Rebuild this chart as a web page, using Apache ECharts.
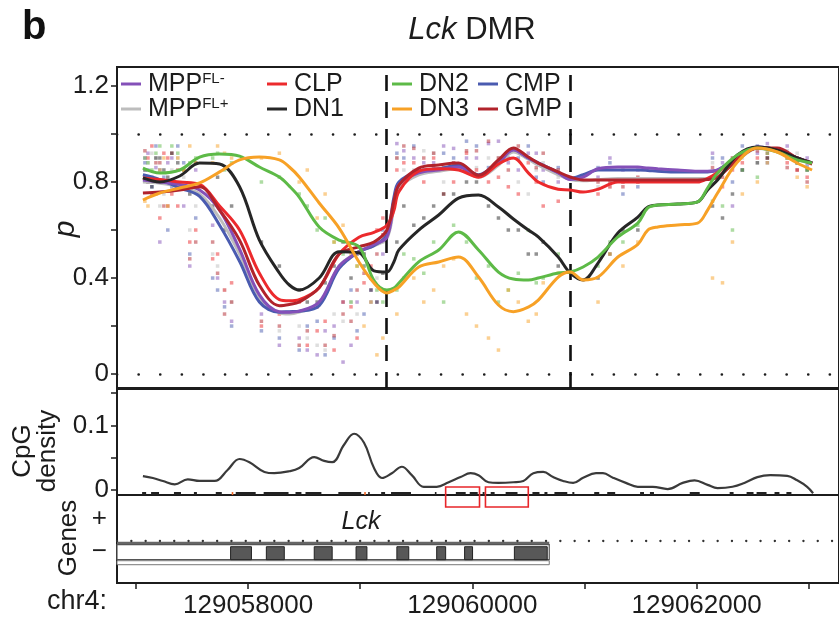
<!DOCTYPE html>
<html><head><meta charset="utf-8">
<script src="https://cdn.jsdelivr.net/npm/echarts@6/dist/echarts.min.js"></script>
<style>html,body{margin:0;padding:0;background:#fff}#c{width:839px;height:619px}</style>
</head><body><div id="c"></div>
<script>
// ---------------- DATA ----------------
// genomic range shown (chr4)
const xMin = 129056831;
const xMax = 129063270;
const xTickValues = [129057000, 129058000, 129059000, 129060000, 129061000, 129062000, 129063000];
const xLabelValues = [129058000, 129060000, 129062000];

// DMR boundaries (dashed vertical lines)
const dmrBounds = [129059232, 129060869];
const refLevels = [0, 1];
const pTicks = [0, 0.2, 0.4, 0.6, 0.8, 1.0, 1.2];
const pLabels = [0, 0.4, 0.8, 1.2];
const cpgTicks = [0, 0.05, 0.1, 0.15];
const cpgLabels = [0, 0.1];

// positions of smoothed methylation curves
const linePos = [129057062,129057213,129057391,129057568,129057746,129057924,129058101,129058279,129058368,129058456,
  129058634,129058812,129058989,129059123,129059238,129059300,129059345,129059522,129059700,129059877,
  129060055,129060233,129060366,129060499,129060588,129060766,129060872,129060988,129061121,129061298,
  129061476,129061565,129061654,129061831,129062009,129062098,129062187,129062364,129062542,129062719,
  129062897,129063030];

const lineMPPminus = [.808,.80,.79,.767,.683,.52,.33,.26,.258,.262,.30,.45,.51,.54,.57,.71,.79,.838,.85,.862,
  .825,.879,.933,.90,.879,.838,.81,.82,.855,.862,.862,.858,.855,.85,.845,.845,.85,.904,.946,.933,.90,.879];
const lineMPPplus = [.80,.795,.78,.75,.65,.50,.32,.255,.25,.258,.29,.45,.51,.535,.565,.69,.775,.83,.845,.855,
  .82,.87,.925,.895,.87,.83,.81,.805,.81,.815,.815,.815,.815,.815,.815,.815,.825,.89,.94,.93,.895,.875];
const lineCMP = [.83,.81,.775,.74,.62,.47,.30,.258,.26,.262,.285,.44,.51,.535,.58,.735,.80,.845,.855,.87,
  .83,.885,.935,.90,.88,.84,.815,.83,.85,.85,.85,.848,.845,.842,.842,.842,.85,.905,.946,.935,.90,.878];
const lineCLP = [.817,.81,.80,.79,.70,.60,.42,.31,.305,.31,.36,.50,.57,.59,.62,.68,.76,.845,.855,.85,
  .82,.875,.90,.838,.80,.77,.767,.758,.77,.80,.80,.80,.80,.80,.80,.815,.84,.90,.942,.933,.90,.875];
const lineGMP = [.754,.758,.767,.78,.683,.558,.37,.285,.29,.30,.36,.50,.53,.55,.60,.72,.787,.858,.871,.879,
  .828,.892,.942,.904,.879,.842,.821,.808,.808,.808,.808,.808,.808,.808,.808,.81,.82,.892,.942,.942,.90,.879];
const lineDN1 = [.817,.80,.825,.879,.875,.78,.558,.421,.371,.35,.40,.51,.505,.43,.425,.467,.517,.60,.6625,.733,
  .746,.696,.646,.60,.571,.4875,.421,.392,.4625,.5875,.654,.696,.704,.708,.717,.767,.808,.9125,.946,.933,.90,.879];
const lineDN2 = [.858,.8375,.85,.904,.917,.908,.8625,.821,.783,.7375,.6125,.558,.53,.39,.35,.358,.379,.467,.517,.592,
  .517,.425,.396,.392,.40,.421,.425,.446,.4875,.571,.629,.692,.704,.708,.717,.775,.8375,.9125,.942,.925,.892,.879];
const lineDN3 = [.725,.754,.775,.796,.842,.892,.904,.892,.8625,.821,.7125,.608,.467,.379,.3375,.35,.3625,.446,.467,.4875,
  .404,.2875,.26,.279,.308,.404,.425,.392,.404,.4875,.54,.60,.6125,.621,.629,.683,.754,.883,.942,.925,.879,.85];

// individual CpG measurements: two sets of sites, one value per cell type per site
const cpgSites = [129057080,129057142,129057213,129057284,129057373,129057480,129057684,129057790,129058119,129058456,
  129058616,129058767,129058918,129059034,129059149,129059389,129059567,129059744,129059948,129060144,
  129060321,129060499,129060632,129061121,129061343,129062231,129062320,129062542,129062808,129062986];
const cpgSites2 = [129057107,129057178,129057249,129057320,129057426,129057533,129057728,129057853,129058279,129058528,
  129058687,129058847,129058972,129059096,129059202,129059327,129059478,129059655,129059833,129060037,
  129060233,129060410,129060570,129060766,129061227,129061476,129062142,129062408,129062631,129062897];
const ptsMPPminus = [0.9,0.82,0.55,0.88,0.78,0.45,0.62,0.3,0.25,0.15,0.08,0.2,0.12,0.45,0.3,0.93,0.88,0.95,0.9,0.96,0.88,0.92,0.85,0.82,0.85,0.88,0.7,0.92,0.95,0.9];
const ptsMPPplus = [0.85,0.92,0.7,0.8,0.9,0.6,0.5,0.35,0.3,0.2,0.12,0.25,0.3,0.5,0.4,0.85,0.93,0.8,0.85,0.9,0.92,0.75,0.88,0.78,0.8,0.85,0.9,0.88,0.93,0.85];
const ptsCMP = [0.88,0.78,0.85,0.6,0.95,0.5,0.4,0.28,0.18,0.1,0.22,0.15,0.35,0.25,0.55,0.9,0.85,0.92,0.97,0.86,0.9,0.95,0.8,0.86,0.75,0.9,0.8,0.95,0.9,0.87];
const ptsCLP = [0.82,0.95,0.65,0.9,0.7,0.55,0.48,0.35,0.2,0.3,0.18,0.1,0.28,0.38,0.6,0.88,0.8,0.75,0.92,0.8,0.78,0.88,0.7,0.75,0.8,0.78,0.85,0.9,0.88,0.82];
const ptsGMP = [0.93,0.75,0.88,0.7,0.85,0.48,0.55,0.25,0.22,0.12,0.28,0.16,0.22,0.42,0.5,0.95,0.9,0.86,0.93,0.97,0.85,0.9,0.92,0.8,0.78,0.82,0.9,0.93,0.86,0.8];
const ptsDN1 = [0.85,0.78,0.9,0.82,0.88,0.75,0.7,0.6,0.55,0.35,0.3,0.45,0.4,0.5,0.3,0.7,0.65,0.75,0.8,0.7,0.6,0.5,0.55,0.4,0.6,0.65,0.75,0.88,0.92,0.85];
const ptsDN2 = [0.9,0.85,0.95,0.8,0.92,0.88,0.9,0.85,0.8,0.75,0.6,0.55,0.3,0.45,0.35,0.5,0.42,0.3,0.55,0.45,0.35,0.6,0.4,0.45,0.55,0.7,0.6,0.82,0.9,0.85];
const ptsDN3 = [0.72,0.8,0.85,0.7,0.9,0.95,0.88,0.92,0.9,0.8,0.65,0.55,0.5,0.2,0.08,0.4,0.3,0.45,0.25,0.15,0.35,0.22,0.38,0.3,0.45,0.38,0.55,0.8,0.9,0.78];
const pts2MPPminus = [0.92,0.86,0.8,0.9,0.7,0.85,0.4,0.22,0.12,0.1,0.18,0.05,0.3,0.35,0.5,0.96,0.9,0.88,0.94,0.9,0.97,0.85,0.92,0.8,0.9,0.85,0.92,0.85,0.96,0.88];
const pts2MPPplus = [0.88,0.9,0.75,0.85,0.82,0.7,0.45,0.3,0.18,0.15,0.1,0.22,0.25,0.4,0.55,0.9,0.85,0.92,0.88,0.86,0.9,0.8,0.85,0.82,0.78,0.8,0.88,0.9,0.9,0.92];
const pts2CMP = [0.85,0.95,0.82,0.78,0.88,0.65,0.35,0.2,0.15,0.2,0.08,0.3,0.18,0.3,0.6,0.92,0.95,0.86,0.9,0.95,0.88,0.9,0.82,0.86,0.88,0.78,0.9,0.95,0.88,0.9];
const pts2CLP = [0.9,0.8,0.92,0.75,0.85,0.6,0.5,0.38,0.25,0.12,0.22,0.3,0.15,0.45,0.65,0.85,0.88,0.9,0.8,0.85,0.82,0.75,0.8,0.72,0.78,0.8,0.82,0.88,0.92,0.85];
const pts2GMP = [0.8,0.88,0.7,0.92,0.78,0.55,0.42,0.3,0.2,0.18,0.12,0.25,0.35,0.4,0.58,0.9,0.94,0.92,0.88,0.93,0.9,0.95,0.86,0.85,0.8,0.82,0.86,0.92,0.9,0.85];
const pts2DN1 = [0.8,0.9,0.85,0.92,0.78,0.88,0.82,0.7,0.45,0.3,0.38,0.55,0.5,0.35,0.42,0.55,0.62,0.7,0.75,0.8,0.65,0.6,0.5,0.45,0.5,0.6,0.7,0.85,0.9,0.88];
const pts2DN2 = [0.88,0.92,0.8,0.95,0.85,0.9,0.92,0.88,0.82,0.7,0.65,0.5,0.45,0.4,0.3,0.35,0.48,0.55,0.62,0.4,0.3,0.42,0.38,0.5,0.55,0.62,0.72,0.85,0.92,0.88];
const pts2DN3 = [0.7,0.75,0.9,0.8,0.85,0.88,0.95,0.9,0.92,0.85,0.75,0.62,0.45,0.3,0.15,0.25,0.4,0.35,0.48,0.2,0.1,0.3,0.25,0.42,0.5,0.55,0.4,0.75,0.88,0.82];

// CpG density curve
const densPos = [129057062,129057151,129057240,129057346,129057462,129057568,129057702,129057817,129057924,129058012,
  129058146,129058234,129058368,129058456,129058590,129058679,129058750,129058856,129058945,129059034,
  129059123,129059194,129059282,129059371,129059460,129059567,129059682,129059789,129059895,129059984,
  129060055,129060144,129060233,129060366,129060455,129060544,129060632,129060721,129060810,129060899,
  129060988,129061103,129061165,129061254,129061369,129061476,129061609,129061742,129061876,129061982,
  129062098,129062187,129062320,129062426,129062542,129062657,129062808,129062897,129062986,129063039];
const densVal = [.0216,.0186,.0139,.0088,.0165,.014,.014,.031,.048,.043,
  .028,.026,.029,.034,.051,.045,.043,.07,.087,.073,
  .034,.0186,.026,.036,.023,.005,.005,.012,.02,.026,
  .023,.012,.011,.012,.014,.026,.028,.02,.014,.011,
  .019,.026,.026,.019,.011,.005,.005,.0015,.011,.015,
  .008,.003,.005,.011,.02,.023,.022,.015,.005,-.005];

// CpG site clusters (start, end) and the two highlighted sites
const cpgRugStart = [129057062,129057142,129057346,129057524,129057719,129057897,129058146,129058430,129058519,129058812,
  129059078,129059194,129059282,129059673,129059860,129059984,129060099,129060171,129060304,129060543,
  129060650,129060739,129060899,129061094,129061210,129061503,129061591,129061946,129062302,129062453,
  129062542,129062702,129062808];
const cpgRugEnd = [129057098,129057213,129057409,129057551,129057773,129058075,129058368,129058483,129058661,129059016,
  129059078,129059229,129059460,129059673,129059948,129060055,129060117,129060206,129060410,129060606,
  129060677,129060854,129060917,129061139,129061281,129061538,129061627,129062035,129062337,129062515,
  129062631,129062746,129062853];
const cpgRugHighlight = [129057861, 129059043];

// highlighted regions (red boxes)
const boxStart = [129059762, 129060117];
const boxEnd = [129060064, 129060499];

// gene model (Lck, minus strand)
const geneStart = 129056500;
const geneEnd = 129060686;
const geneName = 'Lck';
const geneLabelPos = 129059007;
const exonStart = [129057844,129058163,129058590,129058963,129059327,129059682,129059931,129060375];
const exonEnd   = [129058030,129058323,129058750,129059060,129059433,129059762,129060002,129060668];
const strandLevels = [1, 0];   // '+' and '−'

// ---------------- CHART ----------------
const FONT = '"Liberation Sans", Arial, Helvetica, sans-serif';
const INK = '#1c1c1c';
const chart = echarts.init(document.getElementById('c'));

const cellTypes = [
  {name:'MPPFL+', line: lineMPPplus, pts: ptsMPPplus, pts2: pts2MPPplus, color:'#bdbdbd', z:3},
  {name:'CMP', line: lineCMP, pts: ptsCMP, pts2: pts2CMP, color:'#4a5bb0', z:4},
  {name:'MPPFL-', line: lineMPPminus, pts: ptsMPPminus, pts2: pts2MPPminus, color:'#8450b8', z:5},
  {name:'CLP', line: lineCLP, pts: ptsCLP, pts2: pts2CLP, color:'#ec2a2d', z:6},
  {name:'GMP', line: lineGMP, pts: ptsGMP, pts2: pts2GMP, color:'#b1232b', z:7},
  {name:'DN1', line: lineDN1, pts: ptsDN1, pts2: pts2DN1, color:'#262626', z:8},
  {name:'DN2', line: lineDN2, pts: ptsDN2, pts2: pts2DN2, color:'#5dba47', z:9},
  {name:'DN3', line: lineDN3, pts: ptsDN3, pts2: pts2DN3, color:'#f7a126', z:10}
];
const pairs = (xs, ys) => xs.map((x, i) => [x, ys[i]]);

const series = [];
cellTypes.forEach(ct => {
  series.push({
    type:'scatter', name: ct.name + ' sites', xAxisIndex:0, yAxisIndex:0,
    data: pairs(cpgSites, ct.pts).concat(pairs(cpgSites2, ct.pts2)), symbol:'rect', symbolSize:3.5, silent:true,
    itemStyle:{color: ct.color, opacity:0.5}, z:1, animation:false
  });
});
cellTypes.forEach(ct => {
  series.push({
    type:'line', name: ct.name, xAxisIndex:0, yAxisIndex:0,
    data: pairs(linePos, ct.line), smooth:0.35, symbol:'none', showSymbol:false,
    lineStyle:{color: ct.color, width:3}, itemStyle:{color: ct.color}, z: ct.z, animation:false, silent:true
  });
});
// reference lines (dotted at 0/1, dashed DMR bounds)
series.push({
  type:'line', name:'refs', xAxisIndex:0, yAxisIndex:0, data:[], silent:true, z:20, animation:false,
  markLine:{symbol:'none', silent:true, animation:false, label:{show:false},
    data:[
      ...refLevels.map(v => ({yAxis:v, lineStyle:{type:[0.1,21.5], width:2.6, cap:'round', color:INK}})),
      ...dmrBounds.map(v => ({xAxis:v, lineStyle:{type:[16,11], width:2.6, color:'#111'}}))
    ]}
});
// CpG density
series.push({
  type:'line', name:'CpG density', xAxisIndex:1, yAxisIndex:1, data: pairs(densPos, densVal),
  smooth:0.4, symbol:'none', lineStyle:{color:'#3a3a3a', width:2.2}, silent:true, animation:false
});
// CpG rug
series.push({
  type:'custom', name:'CpG sites', xAxisIndex:1, yAxisIndex:1, silent:true, animation:false, clip:false,
  data: [...cpgRugStart.map((s,i)=>[s, cpgRugEnd[i], 0]), ...cpgRugHighlight.map(s=>[s, s, 1])],
  renderItem:(params, api) => {
    const a = api.coord([api.value(0), 0]);
    const b = api.coord([api.value(1), 0]);
    const w = Math.max(b[0]-a[0], 1.6);
    return {type:'rect', shape:{x:a[0]-0.8, y:a[1]+2, width:w, height:3},
      style:{fill: api.value(2) ? '#ee6a2a' : '#222'}, z2: api.value(2) ? 2 : 1};
  }
});
// red boxes
series.push({
  type:'custom', name:'boxes', xAxisIndex:1, yAxisIndex:1, silent:true, animation:false, clip:false, z:15,
  data: boxStart.map((s,i)=>[s, boxEnd[i]]),
  renderItem:(params, api) => {
    const a = api.coord([api.value(0), 0]);
    const b = api.coord([api.value(1), 0]);
    return {type:'rect', shape:{x:a[0], y:a[1]-3, width:b[0]-a[0], height:20},
      style:{fill:'none', stroke:'#e8262a', lineWidth:1.6}};
  }
});
// gene body
series.push({
  type:'custom', name:'gene', xAxisIndex:2, yAxisIndex:2, silent:true, animation:false, z:3,
  data: [[geneStart, geneEnd, geneLabelPos]],
  renderItem:(params, api) => {
    const cs = params.coordSys;
    const a = api.coord([api.value(0), 0]);
    const b = api.coord([api.value(1), 0]);
    const lab = api.coord([api.value(2), 0]);
    const x0 = Math.max(a[0], cs.x), x1 = Math.min(b[0], cs.x + cs.width);
    const y = a[1];
    return {type:'group', children:[
      {type:'rect', shape:{x:x0, y:y-10, width:x1-x0, height:3}, style:{fill:'#666'}},
      {type:'rect', shape:{x:x0, y:y-7, width:x1-x0, height:15}, style:{fill:'#fff', stroke:'#555', lineWidth:1.2}},
      {type:'rect', shape:{x:x0, y:y+9, width:x1-x0, height:4}, style:{fill:'#fff', stroke:'#777', lineWidth:1}},
      {type:'text', x: lab[0], y: y-30, style:{text: geneName, fontFamily:FONT, fontSize:25, fontStyle:'italic', fill:INK, align:'center', verticalAlign:'middle'}}
    ]};
  },
  markLine:{symbol:'none', silent:true, animation:false, label:{show:false},
    data:[{yAxis:0.33, lineStyle:{type:[0.1,14.2], width:2.3, cap:'round', color:'#333'}}]}
});
// exons
series.push({
  type:'custom', name:'exons', xAxisIndex:2, yAxisIndex:2, silent:true, animation:false, z:4,
  data: exonStart.map((s,i)=>[s, exonEnd[i]]),
  renderItem:(params, api) => {
    const a = api.coord([api.value(0), 0]);
    const b = api.coord([api.value(1), 0]);
    return {type:'rect', shape:{x:a[0], y:a[1]-5, width:b[0]-a[0], height:13},
      style:{fill:'#585858', stroke:'#222', lineWidth:1}};
  }
});

const axisFont = {fontFamily:FONT, fontSize:26, color:INK};
const legendBase = {
  orient:'vertical', top:71.5, padding:0, itemGap:0, itemWidth:20, itemHeight:3, icon:'rect',
  selectedMode:false,
  formatter: name => name.startsWith('MPP') ? '{m|MPP}{s|' + name.slice(3) + '}' : '{m|' + name + '}',
  textStyle:{color:INK, fontFamily:FONT, fontSize:25, padding:[0,0,0,2],
    rich:{m:{fontFamily:FONT, fontSize:25, lineHeight:25, color:INK},
          s:{fontFamily:FONT, fontSize:15, lineHeight:5, verticalAlign:'top', color:INK}}}
};

chart.setOption({
  animation:false,
  backgroundColor:'#fff',
  grid:[
    {left:117, top:67, right:-3, height:321, show:true, borderColor:INK, borderWidth:2, backgroundColor:'transparent'},
    {left:117, top:389, right:-3, height:106, show:true, borderColor:INK, borderWidth:2, backgroundColor:'transparent'},
    {left:117, top:495, right:-3, height:90, show:true, borderColor:INK, borderWidth:2, backgroundColor:'transparent'}
  ],
  xAxis:[
    {gridIndex:0, type:'value', min:xMin, max:xMax, show:false},
    {gridIndex:1, type:'value', min:xMin, max:xMax, show:false},
    {gridIndex:2, type:'value', min:xMin, max:xMax,
      axisLine:{onZero:false, lineStyle:{color:INK, width:2}},
      axisTick:{customValues:xTickValues, length:6, lineStyle:{color:INK, width:1.5}},
      axisLabel:{customValues:xLabelValues, formatter:v => String(Math.round(v)), margin:10, ...axisFont},
      splitLine:{show:false}}
  ],
  yAxis:[
    {gridIndex:0, type:'value', min:-0.058, max:1.279,
      axisLine:{show:true, onZero:false, lineStyle:{color:INK, width:2}},
      axisTick:{show:true, customValues:pTicks, length:6, lineStyle:{color:INK, width:1.5}},
      axisLabel:{customValues:pLabels, formatter:v => v === 0 ? '0' : v.toFixed(1), margin:8, ...axisFont},
      splitLine:{show:false}},
    {gridIndex:1, type:'value', min:-0.0077, max:0.1562,
      axisLine:{show:true, onZero:false, lineStyle:{color:INK, width:2}},
      axisTick:{show:true, customValues:cpgTicks, length:6, lineStyle:{color:INK, width:1.5}},
      axisLabel:{customValues:cpgLabels, formatter:v => v === 0 ? '0' : v.toFixed(1), margin:8, ...axisFont},
      splitLine:{show:false}},
    {gridIndex:2, type:'value', min:-0.941, max:1.706,
      axisLine:{show:true, onZero:false, lineStyle:{color:INK, width:2}},
      axisTick:{show:false},
      axisLabel:{customValues:strandLevels, formatter:v => v > 0.5 ? '+' : '\u2212', margin:10, ...axisFont},
      splitLine:{show:false}}
  ],
  legend:[
    {...legendBase, left:121, data:['MPPFL-','MPPFL+']},
    {...legendBase, left:267, data:['CLP','DN1']},
    {...legendBase, left:392, data:['DN2','DN3']},
    {...legendBase, left:478, data:['CMP','GMP']}
  ],
  graphic:[
    {type:'text', x:22, y:28, style:{text:'b', fontFamily:FONT, fontSize:40, fontWeight:'bold', fill:'#111', align:'left', verticalAlign:'middle'}},
    {type:'text', x:472, y:30, style:{text:'{i|Lck}{t| DMR}', align:'center', verticalAlign:'middle',
      rich:{i:{fontFamily:FONT, fontSize:31, fontStyle:'italic', fill:INK}, t:{fontFamily:FONT, fontSize:31, fill:INK}}}},
    {type:'text', x:66, y:229, rotation:Math.PI/2, style:{text:'p', fontFamily:FONT, fontSize:30, fontStyle:'italic', fill:INK, align:'center', verticalAlign:'middle'}},
    {type:'text', x:35, y:451, rotation:Math.PI/2, style:{text:'CpG\ndensity', fontFamily:FONT, fontSize:26, lineHeight:25, fill:INK, align:'center', verticalAlign:'middle'}},
    {type:'text', x:69, y:538, rotation:Math.PI/2, style:{text:'Genes', fontFamily:FONT, fontSize:26, fill:INK, align:'center', verticalAlign:'middle'}},
    {type:'text', x:47, y:602, style:{text:'chr4:', fontFamily:FONT, fontSize:27, fill:INK, align:'left', verticalAlign:'middle'}}
  ],
  series
});
</script>
</body></html>
